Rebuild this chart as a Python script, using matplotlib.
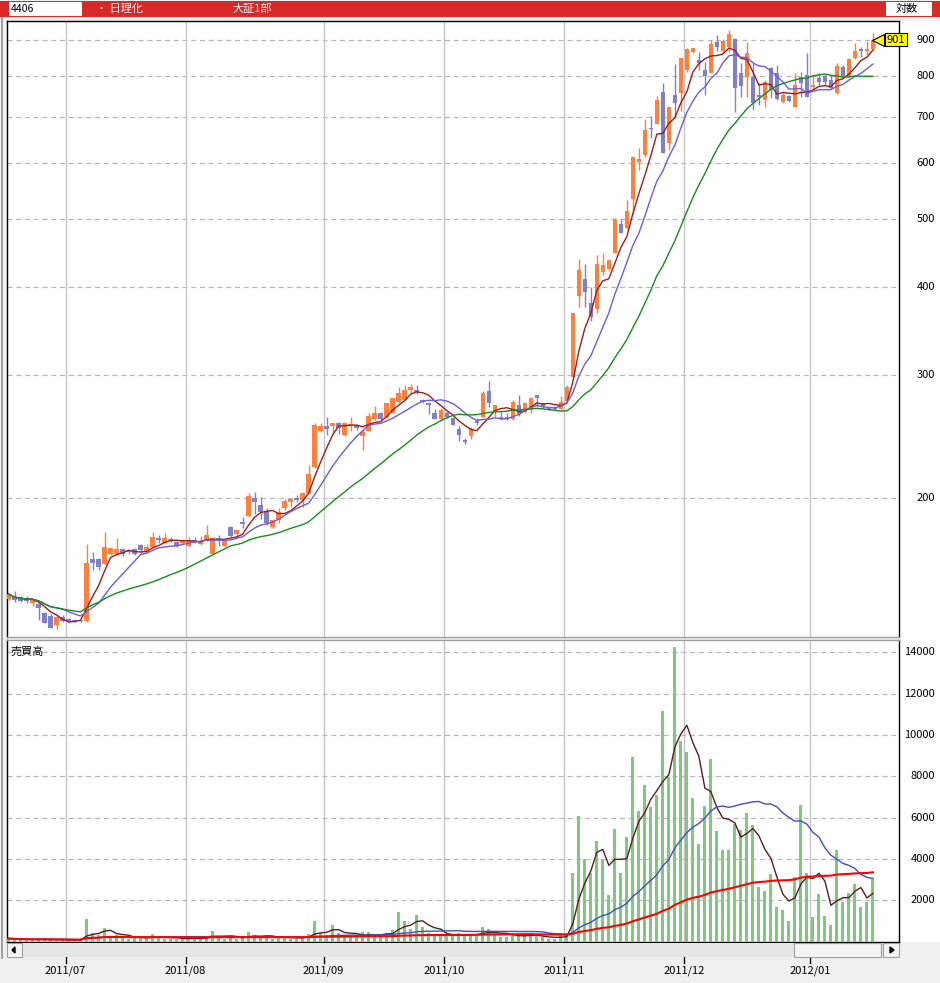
import numpy as np
import pandas as pd
import matplotlib
matplotlib.use('Agg')
import matplotlib.pyplot as plt
from matplotlib.patches import Rectangle, Polygon
from matplotlib.lines import Line2D

plt.rcParams['font.family'] = ['Noto Sans CJK JP', 'DejaVu Sans']

# daily candles, 2011/06/17 .. 2012/01/19
opens = [143.4, 144.6, 144.3, 144.1, 141.8, 141.2, 137, 135.9, 131.8, 135.5,
         134.6, 134, 134, 133.5, 163.5, 163.5, 161, 166.2, 166.2, 169,
         168, 169.1, 171.2, 167.3, 170.1, 175.2, 172.8, 175, 173.2, 172.8,
         170.7, 174.3, 171.8, 173.9, 166.4, 175.3, 170.8, 181.7, 177.8, 184.8,
         188.5, 199.8, 195.3, 191.8, 182, 186, 193.6, 197.4, 199.8, 198.7,
         203, 221.7, 249.5, 253.5, 253.5, 255.7, 246, 254.2, 254.2, 245.2,
         249.5, 259, 264.5, 260.7, 264.7, 273.9, 276, 285.2, 285.2, 276,
         273.5, 264.5, 259.2, 264.7, 260.4, 250.8, 242, 244.9, 257.8, 261.2,
         284, 265.5, 261, 261, 259, 271.5, 265.5, 266.8, 280.4, 273,
         269.4, 269, 267.7, 275.3, 297.9, 388.3, 410.6, 379, 372.4, 419.7,
         424, 447.6, 491.8, 485, 533.4, 603.5, 616.9, 673, 683, 759.5,
         641, 751, 757, 815.6, 864.4, 843, 815.6, 808.4, 895, 869,
         878.6, 903, 808.4, 797.8, 797.8, 751, 739, 820, 806.8, 735,
         749, 723, 797.8, 802, 772, 793.4, 799.6, 789, 755.4, 824.5,
         799.6, 847.6, 874.4, 869, 873]
highs = [146.5, 147.4, 145, 144.8, 143.3, 141.5, 137.5, 136.5, 135.8, 136,
         135, 134.5, 134.5, 171.8, 167.7, 164.4, 179, 170.4, 175.4, 169.8,
         168.5, 169.8, 172, 172, 178.7, 177, 178, 176, 173.5, 175,
         176, 176, 176.5, 183, 176, 177, 174.5, 182.5, 180.3, 188,
         203.5, 204, 200.8, 193.5, 186.5, 193.5, 199.5, 200, 202, 204,
         222.9, 255.5, 255.8, 260.7, 256, 257, 256.5, 261.2, 254.5, 251,
         264.5, 270.5, 265, 273.5, 278, 288.3, 290, 291, 290, 276.5,
         273.8, 268, 268.5, 266, 260.6, 253, 243.5, 252.8, 260, 284.5,
         293.5, 271.5, 266.5, 264, 275.5, 280.4, 274, 277.8, 280.6, 273.5,
         270, 270, 280, 290, 367, 438, 432, 400.3, 444.2, 447,
         437, 501, 500, 532, 614, 630.6, 694.4, 701, 748, 782.3,
         722, 831.9, 848, 876, 878, 864, 838, 900, 915, 903,
         930, 905, 833.8, 895, 833.8, 780.6, 789, 824.5, 829, 755.4,
         752, 808.4, 811, 863, 802, 806.8, 805, 802, 833.8, 829,
         847.6, 890.4, 880.4, 898, 921]
lows = [143, 142.3, 142.3, 141.8, 140.5, 134, 132.5, 130.6, 130.2, 133.2,
        132.7, 133, 133.2, 133, 157.8, 157.8, 160.5, 165.8, 165.8, 165.3,
        166.5, 165.8, 166.5, 166.8, 169.6, 172.5, 172.5, 173, 170.5, 172,
        170.5, 172.5, 171.5, 173.5, 166, 171, 170.5, 176, 176.5, 181,
        188, 190, 186.5, 183, 181, 184.5, 192, 194, 197.5, 194,
        202.5, 221, 248, 246, 248, 247, 245.5, 249, 250, 234.2,
        249, 258.5, 258.5, 260.5, 264, 273, 275.5, 282, 281, 273.5,
        263.5, 259, 258, 260.5, 254, 241.4, 239, 242.9, 254, 261,
        270, 261, 258.5, 258, 258.5, 261.8, 264, 264, 270, 268.5,
        267, 267, 267, 275, 297.5, 374.1, 375, 358, 367, 416,
        422, 447, 477, 484, 509, 587, 613, 652, 682, 620,
        627, 702, 713, 811, 862, 815.6, 751, 806.8, 869, 866,
        866, 711, 747, 747, 715, 727, 723, 743.4, 739, 731,
        735, 721.6, 745.8, 745.8, 764, 776.4, 776.4, 766, 754, 793.4,
        797, 844.8, 850, 857, 870]
closes = [145.9, 143, 142.7, 142.5, 143, 139.2, 132.8, 130.6, 135.4, 133.7,
          133.4, 133.4, 133.5, 161.4, 161.7, 159.6, 170.4, 169.5, 169.1, 166.2,
          167.3, 166.5, 168.6, 170.1, 176.1, 174, 175.2, 174.3, 171, 174.2,
          174.5, 173.3, 173, 176.9, 175.4, 174, 173.9, 176.5, 180, 183.5,
          201.3, 197.6, 190.7, 184.2, 186, 191.3, 198.2, 199.6, 198.7, 203.1,
          216.4, 254.2, 253.5, 251, 255.7, 252, 256.1, 255.3, 251.5, 248.6,
          261.8, 264, 259, 272.9, 277.5, 282.6, 285.2, 288.3, 283, 274,
          271, 259.5, 267.4, 261.2, 254.5, 246, 240.6, 250.8, 255.7, 282,
          272.9, 271.3, 259.3, 259.5, 274.3, 263.8, 273, 277.5, 277.5, 269.4,
          267, 267.5, 274, 287.5, 366.8, 422.9, 393.8, 362.7, 431.3, 430,
          436.5, 500.3, 478, 513.8, 613.5, 609.8, 669.8, 671.5, 739, 620.4,
          721.6, 732.5, 847.6, 873, 875.8, 833.8, 799.6, 888, 878.6, 898,
          918, 768, 774.6, 861.6, 731, 745.8, 784.8, 764, 741.6, 751,
          737.4, 776.4, 780.6, 747.2, 776.4, 784, 784.8, 768, 826.4, 799.6,
          844.8, 869, 867, 873, 901]
volumes = [150, 120, 90, 100, 80, 130, 110, 90, 100, 60,
           70, 60, 80, 1080, 440, 300, 650, 250, 300, 200,
           150, 180, 200, 150, 350, 200, 150, 120, 150, 130,
           200, 150, 120, 250, 500, 200, 150, 250, 150, 200,
           450, 300, 200, 250, 150, 200, 250, 150, 150, 200,
           350, 1000, 400, 300, 800, 400, 300, 250, 200, 450,
           450, 300, 250, 400, 550, 1430, 1000, 600, 1290, 700,
           400, 350, 300, 250, 350, 400, 300, 350, 250, 700,
           600, 300, 200, 200, 400, 350, 250, 300, 250, 200,
           150, 150, 300, 400, 3300, 6100, 4000, 3300, 4890, 4010,
           2240, 5470, 3300, 5040, 8950, 6340, 7590, 6530, 7110, 11170,
           7980, 14270, 9720, 9190, 6970, 4700, 6580, 8850, 5330, 4410,
           4410, 5710, 5420, 6200, 5660, 2620, 2430, 3250, 1660, 1510,
           980, 3150, 6630, 3300, 1180, 2290, 1220, 790, 4410, 1900,
           2330, 2770, 1660, 1900, 3010]

month_labels = ['2011/07', '2011/08', '2011/09', '2011/10', '2011/11', '2011/12', '2012/01']
month_first = [10, 30, 53, 73, 93, 113, 134]   # index of first trading day
price_ticks = [200, 300, 400, 500, 600, 700, 800, 900]
volume_ticks = [2000, 4000, 6000, 8000, 10000, 12000, 14000]

o = np.array(opens); h = np.array(highs); l = np.array(lows); c = np.array(closes)
v = np.array(volumes)
n = len(c)
x = np.arange(n)

W, H = 940, 983
def fx(px):
    return px / W
def fy(py):
    return 1 - py / H

fig = plt.figure(figsize=(9.4, 9.83), dpi=100)
fig.patch.set_facecolor('#f0f0f0')

# white strip behind right-hand scale
fig.add_artist(Rectangle((fx(899), fy(942)), fx(940) - fx(899), fy(21) - fy(942),
                         transform=fig.transFigure, facecolor='white', edgecolor='none', zorder=0))
# grey frame line on the far left
fig.add_artist(Line2D([fx(1.5), fx(1.5)], [fy(18), fy(958)], transform=fig.transFigure,
                      color='#909090', lw=1.2))

ax = fig.add_axes([fx(7), fy(637), fx(899) - fx(7), fy(21) - fy(637)])
axv = fig.add_axes([fx(7), fy(942), fx(899) - fx(7), fy(640) - fy(942)])
xmin, xmax = -0.25, 148.34

# ---- price panel
ax.set_yscale('log')
ax.set_ylim(126.7, 958)
ax.set_xlim(xmin, xmax)
ax.yaxis.set_major_locator(plt.NullLocator())
ax.yaxis.set_minor_locator(plt.NullLocator())
ax.set_xticks([])

for p in price_ticks:
    ax.axhline(p, color='#b8b8b8', lw=0.9, ls=(0, (4, 3)), zorder=1)
    ax.text(1.0404, p, str(p), transform=ax.get_yaxis_transform(), ha='right',
            va='center', fontsize=8)
for m in month_first:
    ax.axvline(m - 0.5, color='#c4c4c4', lw=1, zorder=1)
    axv.axvline(m - 0.5, color='#c4c4c4', lw=1, zorder=1)

up = c >= o
col = np.where(up, '#ff7f3f', '#8080c8')
ax.vlines(x, l, h, colors=col, lw=1, zorder=3)
lo = np.minimum(o, c)
hh = np.maximum(np.abs(c - o), lo * 0.004)
ax.bar(x, hh, bottom=lo, width=0.74, color=col, linewidth=0, zorder=4)

cs = pd.Series(c)
ax.plot(x, cs.rolling(5, min_periods=1).mean(), color='#a01c1c', lw=1, zorder=5)
ax.plot(x, cs.rolling(10, min_periods=1).mean(), color='#6c5ce0', lw=1, zorder=5)
ax.plot(x, cs.rolling(25, min_periods=1).mean(), color='#1a8a1a', lw=1, zorder=5)

# last price marker
ax.plot([0.977], [c[-1]], marker='<', ms=8, mfc='#ffff00', mec='black', mew=0.8,
        transform=ax.get_yaxis_transform(), clip_on=False, zorder=6)
ax.text(0.9966, c[-1], '%d' % round(c[-1]), transform=ax.get_yaxis_transform(),
        ha='center', va='center', fontsize=8, clip_on=False, zorder=7,
        bbox=dict(boxstyle='square,pad=0.15', fc='#ffff00', ec='black', lw=0.8))

for s in ax.spines.values():
    s.set_color('black'); s.set_linewidth(1)
ax.spines['bottom'].set_color('#a0a0a0')

# ---- volume panel
axv.set_xlim(xmin, xmax)
axv.set_ylim(-19, 14593)
axv.set_xticks([])
axv.set_yticks([])
for t in volume_ticks:
    axv.axhline(t, color='#b8b8b8', lw=0.9, ls=(0, (4, 3)), zorder=1)
    axv.text(1.0404, t, str(t), transform=axv.get_yaxis_transform(), ha='right',
             va='center', fontsize=8)
axv.bar(x, v, width=0.5, color='#80c880', linewidth=0, zorder=3)
vs = pd.Series(v, dtype=float)
axv.plot(x, vs.rolling(5, min_periods=1).mean(), color='#5a1e1e', lw=1, zorder=5)
axv.plot(x, vs.rolling(25, min_periods=1).mean(), color='#3c50c8', lw=1, zorder=5)
axv.plot(x, vs.rolling(75, min_periods=1).mean(), color='#ff0000', lw=1.5, zorder=5)
axv.text(0.004, 0.96, '売買高', transform=axv.transAxes, ha='left', va='center', fontsize=8)
for s in axv.spines.values():
    s.set_color('black'); s.set_linewidth(1)
axv.spines['top'].set_color('#a0a0a0')

# month labels and ticks below the scrollbar
for m, lab in zip(month_first, month_labels):
    axv.plot([m - 0.5, m - 0.5], [-0.05, -0.07], color='black', lw=1,
             transform=axv.get_xaxis_transform(), clip_on=False)
    axv.text(m - 0.5, -0.096, lab, transform=axv.get_xaxis_transform(), ha='center',
             va='center', fontsize=8)

# ---- scrollbar
def rect(x0, y0, x1, y1, **kw):
    fig.add_artist(Rectangle((fx(x0), fy(y1)), fx(x1) - fx(x0), fy(y0) - fy(y1),
                             transform=fig.transFigure, **kw))
rect(7, 943, 899, 957, facecolor='#e6e6e6', edgecolor='none')
rect(7, 943, 22, 957, facecolor='#f4f4f4', edgecolor='#a0a0a0', lw=0.8)
rect(883, 943, 899, 957, facecolor='#f4f4f4', edgecolor='#a0a0a0', lw=0.8)
rect(794, 943, 881, 957, facecolor='#f4f4f4', edgecolor='#a0a0a0', lw=0.8)
fig.add_artist(Polygon([(fx(12), fy(950)), (fx(15), fy(947)), (fx(15), fy(953))],
                       closed=True, transform=fig.transFigure, color='black'))
fig.add_artist(Polygon([(fx(894), fy(950)), (fx(890), fy(947)), (fx(890), fy(953))],
                       closed=True, transform=fig.transFigure, color='black'))

# ---- header bar
rect(0, 1, 940, 17, facecolor='#d82828', edgecolor='none')
rect(9, 2, 82, 16, facecolor='white', edgecolor='none')
rect(886, 2, 932, 16, facecolor='white', edgecolor='none')
fig.text(fx(11), fy(9), '4406', ha='left', va='center', fontsize=7.5)
fig.text(fx(96), fy(9), '・ 日理化', ha='left', va='center', fontsize=8, color='white')
fig.text(fx(232), fy(9), '大証1部', ha='left', va='center', fontsize=8, color='white')
fig.text(fx(896), fy(9), '対数', ha='left', va='center', fontsize=8)

fig.savefig('out.png', dpi=100, facecolor=fig.get_facecolor())
